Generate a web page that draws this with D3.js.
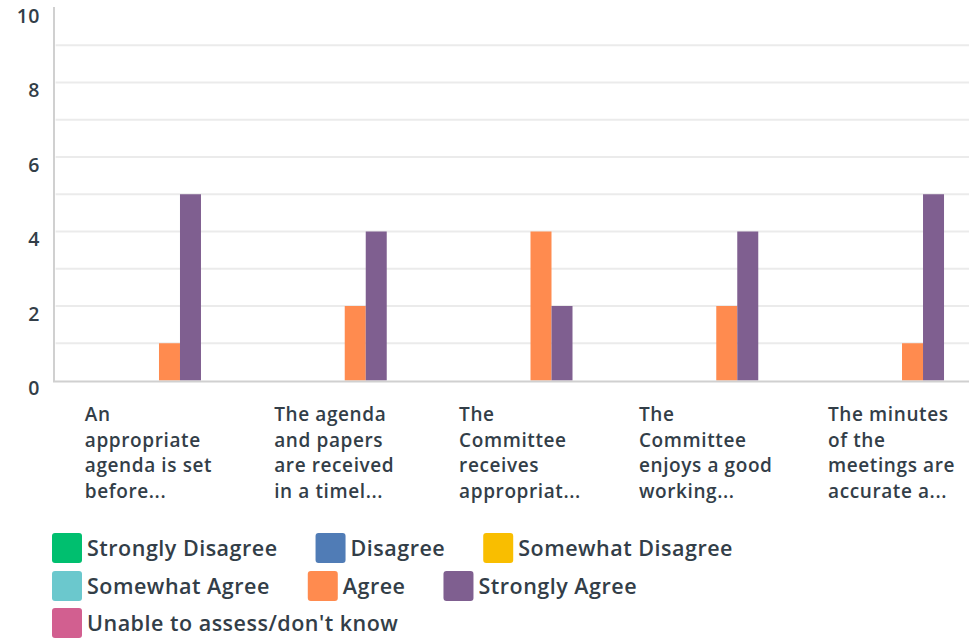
<!DOCTYPE html>
<html><head><meta charset="utf-8">
<script src="https://cdn.jsdelivr.net/npm/d3@7"></script>
<style>
html,body{margin:0;padding:0;background:#fff;overflow:hidden;}
text{font-family:"Open Sans",sans-serif;font-weight:600;fill:#333e48;}
</style></head>
<body><svg id="c" width="969" height="638"></svg>
<script>
const categories = [
  ["An","appropriate","agenda is set","before..."],
  ["The agenda","and papers","are received","in a timel..."],
  ["The","Committee","receives","appropriat..."],
  ["The","Committee","enjoys a good","working..."],
  ["The minutes","of the","meetings are","accurate a..."]
];
const seriesNames = ["Strongly Disagree","Disagree","Somewhat Disagree","Somewhat Agree","Agree","Strongly Agree","Unable to assess/don't know"];
const seriesColors = ["#00bf6f","#507cb6","#f9be00","#6bc8cd","#ff8b4f","#7f5f90","#d25f90"];
const stronglyDisagree = [0,0,0,0,0];
const disagree = [0,0,0,0,0];
const somewhatDisagree = [0,0,0,0,0];
const somewhatAgree = [0,0,0,0,0];
const agree = [1,2,4,2,1];
const stronglyAgree = [5,4,2,4,5];
const unable = [0,0,0,0,0];
const seriesValues = [stronglyDisagree,disagree,somewhatDisagree,somewhatAgree,agree,stronglyAgree,unable];
const yTickLabels = [0,2,4,6,8,10];

(function(){
const svg = d3.select("#c");
const pl = 55.6, pr = 984.4, pt = 8, pb = 380.5;
const x = d3.scaleBand().domain(d3.range(categories.length)).range([pl,pr]).padding(0);
const y = d3.scaleLinear().domain([0,10]).range([pb,pt]);
const barW = 21;

svg.append("g").selectAll("line").data(d3.range(1,10)).join("line")
  .attr("x1",pl).attr("x2",969).attr("y1",d=>y(d)).attr("y2",d=>y(d))
  .attr("stroke","#ebebeb").attr("stroke-width",2);

const groups = svg.append("g").selectAll("g").data(seriesValues).join("g")
  .attr("fill",(d,i)=>seriesColors[i]);
groups.selectAll("rect").data((vals,si)=>vals.map((v,ci)=>({v,ci,si}))).join("rect")
  .attr("x",d=>x(d.ci)+x.bandwidth()/2 + (d.si-3.5)*barW)
  .attr("width",barW)
  .attr("y",d=>y(d.v)).attr("height",d=>pb-y(d.v));

svg.append("line").attr("x1",54).attr("x2",54).attr("y1",y(10)-1).attr("y2",pb+1).attr("stroke","#d0d0d0").attr("stroke-width",2);
svg.append("line").attr("x1",53).attr("x2",969).attr("y1",pb+1).attr("y2",pb+1).attr("stroke","#d0d0d0").attr("stroke-width",2);

svg.append("g").selectAll("text").data(yTickLabels).join("text")
  .attr("x",40).attr("y",d=>y(d)+9.5).attr("dominant-baseline","middle")
  .attr("text-anchor","end").attr("font-size",19.5).attr("letter-spacing",0.5).text(d=>d);

categories.forEach((lines,i)=>{
  const t = svg.append("text").attr("font-size",19).attr("letter-spacing",0.6);
  lines.forEach((ln,j)=>{
    t.append("tspan").attr("x",0).attr("y",421+j*25.6).text(ln);
  });
  const w = t.node().getBBox().width;
  t.attr("transform",`translate(${x(i)+x.bandwidth()/2 - w/2},0)`);
});

const lg = svg.append("g");
let lx = 52, ly = 0;
const rowY = [548,586,623];
seriesNames.forEach((name,i)=>{
  const g = lg.append("g");
  g.append("rect").attr("width",30).attr("height",30).attr("rx",3).attr("fill",seriesColors[i]);
  const t = g.append("text").attr("x",35).attr("y",17).attr("dominant-baseline","middle").attr("font-size",21.5).attr("letter-spacing",0.5).text(name);
  const w = 35 + t.node().getComputedTextLength();
  if (lx + w > 965 && lx>52) { lx = 52; ly++; }
  g.attr("transform",`translate(${lx},${rowY[ly]-15})`);
  lx += w + 38;
});
})();
</script></body></html>
